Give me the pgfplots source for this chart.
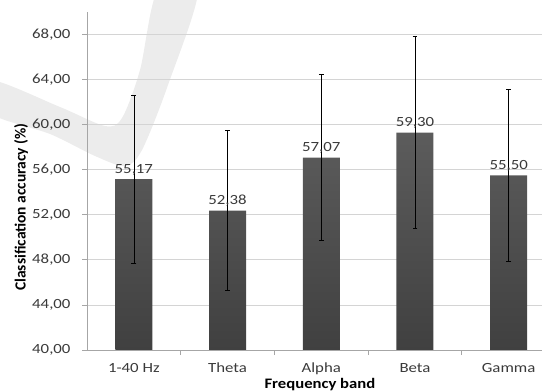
\documentclass[border=0pt]{standalone}
\usepackage{pgfplots}
\pgfplotsset{compat=1.18}
\usepackage{fontspec}
\setmainfont{Carlito}
\newfontfamily\tickfont[FakeStretch=1.2]{Carlito}
\newfontfamily\labfont[FakeStretch=1.15]{Carlito}
\definecolor{gridgray}{HTML}{D4D4D4}
\definecolor{axisgray}{HTML}{A6A6A6}
\definecolor{barTop}{HTML}{5C5C5C}
\definecolor{barBot}{HTML}{404040}
\definecolor{txtgray}{HTML}{3A3A3A}
\definecolor{wmark}{HTML}{ECECEC}
\begin{document}
\begin{tikzpicture}
\useasboundingbox (0,0) rectangle (542bp,392bp);
\begin{scope}[x=1bp,y=-1bp,shift={(0,392bp)}]
\fill[wmark] plot[smooth cycle, tension=0.5] coordinates {(-10,80) (60,107) (105,126) (122,118) (140,70) (158,-10) (198,-10) (168,85) (142,150) (125,166) (95,156) (50,134) (-10,113)};
\end{scope}
\begin{axis}[
  at={(87bp,42bp)}, anchor=south west,
  scale only axis, width=455bp, height=338bp,
  ybar, bar width=37bp,
  ymin=40, ymax=70, ytick={40,44,...,68},
  xmin=-0.5, xmax=4.356,
  xtick={0,1,2,3,4},
  xticklabels={1-40 Hz,Theta,Alpha,Beta,Gamma},
  axis x line*=bottom, axis y line*=left,
  axis line style={color=axisgray, line width=0.8bp},
  ymajorgrids, grid style={color=gridgray, line width=0.8bp},
  tick align=outside, major tick length=5bp,
  xtick style={draw=none},
  ytick style={draw=axisgray, line width=0.8bp},
  extra x ticks={0.5,1.5,2.5,3.5},
  extra x tick labels={},
  extra x tick style={xtick style={draw=axisgray, line width=0.8bp}, grid=none},
  /pgf/number format/assume math mode=true,
  yticklabel style={/pgf/number format/use comma, /pgf/number format/fixed, /pgf/number format/fixed zerofill, /pgf/number format/precision=2},
  ticklabel style={font=\tickfont\fontsize{14bp}{16bp}\selectfont, text=txtgray},
  yticklabel style={xshift=-8bp},
  xticklabel style={anchor=base, yshift=-17bp},
  xlabel={Frequency band},
  ylabel={Classification accuracy (\%)},
  xlabel style={font=\labfont\bfseries\fontsize{14.5bp}{16bp}\selectfont, at={(axis description cs:0.512,-0.102)}, anchor=center},
  ylabel style={font=\bfseries\fontsize{15.5bp}{17bp}\selectfont, at={(axis description cs:-0.145,0.423)}, anchor=center, rotate=0},
  nodes near coords,
  nodes near coords style={font=\tickfont\fontsize{14bp}{16bp}\selectfont, text=txtgray, anchor=base, yshift=6bp,
    /pgf/number format/use comma, /pgf/number format/fixed, /pgf/number format/fixed zerofill, /pgf/number format/precision=2},
  error bars/y dir=both, error bars/y explicit,
  error bars/error bar style={black, line width=0.7bp},
  error bars/error mark options={rotate=90, mark size=2.4bp, line width=0.7bp, black},
  clip=false,
]
\addplot[draw=none, top color=barTop, bottom color=barBot] table[x=x, y=y, y error=e] {
x y e
0 55.17 7.47
1 52.38 7.10
2 57.07 7.36
3 59.30 8.52
4 55.50 7.62
};
\end{axis}
\end{tikzpicture}
\end{document}
